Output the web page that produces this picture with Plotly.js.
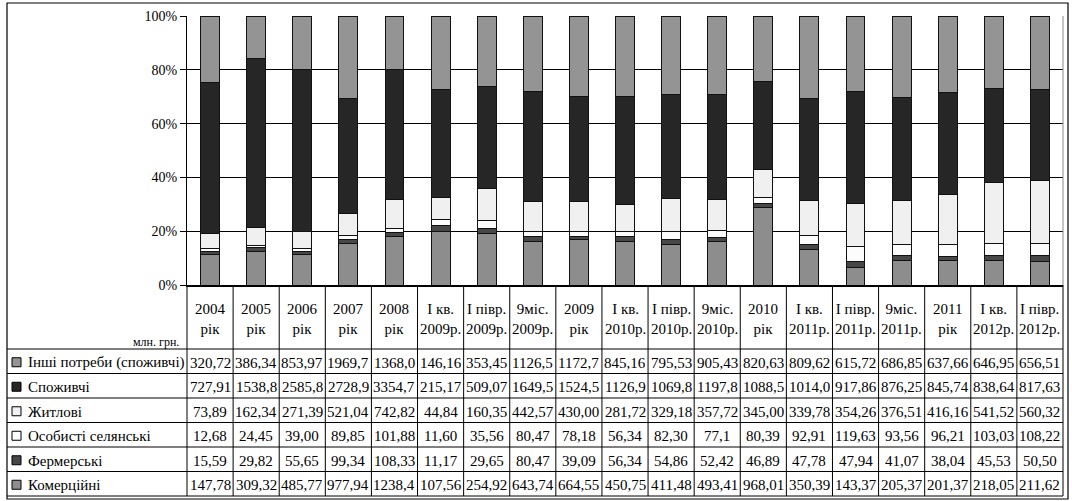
<!DOCTYPE html>
<html>
<head>
<meta charset="utf-8">
<script src="https://cdn.plot.ly/plotly-3.0.1.min.js"></script>
<style>
html,body{margin:0;padding:0;background:#fff;}
#chart{width:1072px;height:501px;}
</style>
</head>
<body>
<div id="chart"></div>
<script>
// ---------- DATA ----------
const categories = ['2004 рік','2005 рік','2006 рік','2007 рік','2008 рік',
  'I кв. 2009р.','I півр. 2009р.','9міс. 2009р.','2009 рік',
  'I кв. 2010р.','I півр. 2010р.','9міс. 2010р.','2010 рік',
  'I кв. 2011р.','I півр. 2011р.','9міс. 2011р.','2011 рік',
  'I кв. 2012р.','I півр. 2012р.'];
const headerLabels = ['2004<br>рік','2005<br>рік','2006<br>рік','2007<br>рік','2008<br>рік',
  'I кв.<br>2009р.','I півр.<br>2009р.','9міс.<br>2009р.','2009<br>рік',
  'I кв.<br>2010р.','I півр.<br>2010р.','9міс.<br>2010р.','2010<br>рік',
  'I кв.<br>2011р.','I півр.<br>2011р.','9міс.<br>2011р.','2011<br>рік',
  'I кв.<br>2012р.','I півр.<br>2012р.'];
const unitLabel = 'млн. грн.';
const yTickVals = [0, 20, 40, 60, 80, 100];

// values as printed in the table (Ukrainian decimal comma)
const inshi       = ['320,72','386,34','853,97','1969,7','1368,0','146,16','353,45','1126,5','1172,7','845,16','795,53','905,43','820,63','809,62','615,72','686,85','637,66','646,95','656,51'];
const spozhyvchi  = ['727,91','1538,8','2585,8','2728,9','3354,7','215,17','509,07','1649,5','1524,5','1126,9','1069,8','1197,8','1088,5','1014,0','917,86','876,25','845,74','838,64','817,63'];
const zhytlovi    = ['73,89','162,34','271,39','521,04','742,82','44,84','160,35','442,57','430,00','281,72','329,18','357,72','345,00','339,78','354,26','376,51','416,16','541,52','560,32'];
const osobysti    = ['12,68','24,45','39,00','89,85','101,88','11,60','35,56','80,47','78,18','56,34','82,30','77,1','80,39','92,91','119,63','93,56','96,21','103,03','108,22'];
const fermerski   = ['15,59','29,82','55,65','99,34','108,33','11,17','29,65','80,47','39,09','56,34','54,86','52,42','46,89','47,78','47,94','41,07','38,04','45,53','50,50'];
const komertsiini = ['147,78','309,32','485,77','977,94','1238,4','107,56','254,92','643,74','664,55','450,75','411,48','493,41','968,01','350,39','143,37','205,37','201,37','218,05','211,62'];

// stack order: bottom -> top
const seriesNames  = ['Комерційні','Фермерські','Особисті селянські','Житлові','Споживчі','Інші потреби (споживчі)'];
const seriesData   = [komertsiini, fermerski, osobysti, zhytlovi, spozhyvchi, inshi];
const seriesColors = ['#8d8d8d','#474747','#fcfcfc','#f0f0f0','#262626','#949494'];

// ---------- GEOMETRY (pixels) ----------
const W = 1072, H = 501;
const L = 187, R = 1063, T = 16, B = 285;
const headerBottom = 349, tableBottom = 496;
const rowH = (tableBottom - headerBottom) / seriesNames.length;
const xp = px => (px - L) / (R - L);
const yp = py => (B - py) / (B - T);
const FONT = '"Liberation Serif", "Times New Roman", serif';

const toNum = s => parseFloat(s.replace(',', '.'));

// ---------- TRACES ----------
const traces = seriesNames.map((name, k) => ({
  type: 'bar',
  name: name,
  x: categories,
  y: seriesData[k].map(toNum),
  marker: {color: seriesColors[k], line: {color: '#111', width: 1}},
  hoverinfo: 'x+y+name'
}));

// ---------- TABLE: shapes & annotations ----------
const shapes = [];
const annotations = [];
const lineBlack = {color: '#000', width: 1};

// outer frame
shapes.push({type:'rect', xref:'paper', yref:'paper', x0: xp(7), x1: xp(1068), y0: yp(3), y1: yp(499), line:{color:'#000', width:1.2}, layer:'below'});

// horizontal table lines
const tableRows = seriesNames.slice().reverse();  // top -> bottom in table
for (let r = 0; r <= tableRows.length; r++) {
  const y = headerBottom + r * rowH;
  shapes.push({type:'line', xref:'paper', yref:'paper', x0: xp(7), x1: 1, y0: yp(y), y1: yp(y), line: lineBlack});
}
// vertical lines at category boundaries
for (let i = 1; i < categories.length; i++) {
  shapes.push({type:'line', xref:'x', yref:'paper', x0: i - 0.5, x1: i - 0.5, y0: 0, y1: yp(tableBottom), line: lineBlack});
}
shapes.push({type:'line', xref:'paper', yref:'paper', x0: 0, x1: 0, y0: 0, y1: yp(tableBottom), line: lineBlack});
shapes.push({type:'line', xref:'paper', yref:'paper', x0: 1, x1: 1, y0: 0, y1: yp(tableBottom), line: lineBlack});
shapes.push({type:'line', xref:'paper', yref:'paper', x0: 1, x1: 1, y0: 0, y1: 1, line: {color:'#8a8a8a', width:1}});

// header labels
headerLabels.forEach((lab, i) => {
  annotations.push({xref:'x', yref:'paper', x: i, y: yp((B + headerBottom) / 2 + 1.5), text: lab,
    showarrow:false, xanchor:'center', yanchor:'middle', align:'center',
    font:{family: FONT, size: 15, color:'#000'}});
});
annotations.push({xref:'paper', yref:'paper', x: xp(181), y: yp(342), text: unitLabel,
  showarrow:false, xanchor:'right', yanchor:'middle', font:{family: FONT, size: 12, color:'#000'}});

// rows
tableRows.forEach((name, r) => {
  const k = seriesNames.indexOf(name);
  const yc = headerBottom + (r + 0.5) * rowH;
  // legend square
  shapes.push({type:'rect', xref:'paper', yref:'paper', x0: xp(12), x1: xp(21), y0: yp(yc - 3.5), y1: yp(yc + 5.5),
    fillcolor: seriesColors[k], line:{color:'#000', width:1}});
  annotations.push({xref:'paper', yref:'paper', x: xp(26), y: yp(yc + 1.5), text: name,
    showarrow:false, xanchor:'left', yanchor:'middle', font:{family: FONT, size: 15, color:'#000'}});
  seriesData[k].forEach((v, i) => {
    annotations.push({xref:'x', yref:'paper', x: i, y: yp(yc + 1.5), text: v,
      showarrow:false, xanchor:'center', yanchor:'middle', font:{family: FONT, size: 15, color:'#000'}});
  });
});

// ---------- LAYOUT ----------
const layout = {
  width: W, height: H,
  margin: {l: L, r: W - R, t: T, b: H - B, pad: 0},
  paper_bgcolor: '#fff', plot_bgcolor: '#fff',
  barmode: 'stack', barnorm: 'percent', bargap: 0.59,
  showlegend: false,
  font: {family: FONT, size: 14, color: '#000'},
  xaxis: {type:'category', showticklabels:false, ticks:'', showgrid:false, zeroline:false,
          showline:true, linecolor:'#000', linewidth:1.5, fixedrange:true},
  yaxis: {range:[0,100], tickvals: yTickVals, ticktext: yTickVals.map(v => v + '%'),
          ticks:'outside', ticklen:6, tickcolor:'#000', tickwidth:1,
          showline:true, linecolor:'#000', linewidth:1,
          showgrid:true, gridcolor:'#000', gridwidth:1, zeroline:false,
          tickfont:{family: FONT, size: 14, color:'#000'}, fixedrange:true},
  shapes: shapes,
  annotations: annotations
};

Plotly.newPlot('chart', traces, layout, {displayModeBar:false, staticPlot:true});
</script>
</body>
</html>
